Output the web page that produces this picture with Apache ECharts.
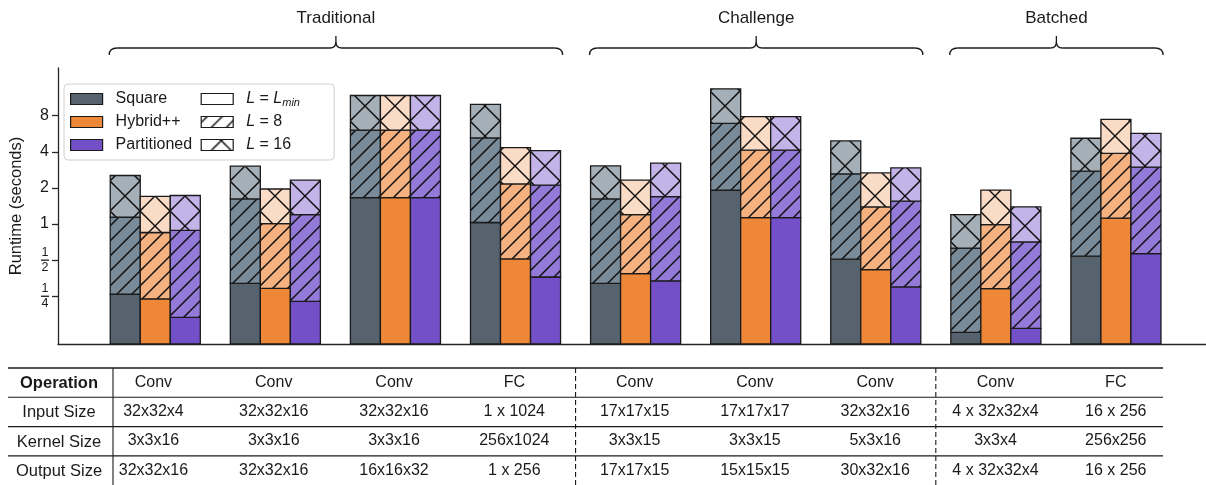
<!DOCTYPE html>
<html><head><meta charset="utf-8">
<script src="https://cdn.jsdelivr.net/npm/echarts@6/dist/echarts.min.js"></script>
<style>html,body{margin:0;padding:0;background:#fff}#c{width:1206px;height:485px}</style>
</head><body><div id="c"></div>
<script>
// ---------------- data ----------------
const categories = ['Trad-1','Trad-2','Trad-3','Trad-4','Chal-1','Chal-2','Chal-3','Batch-1','Batch-2'];
// runtime in seconds (top of each stacked level: L = Lmin, L = 8, L = 16)
const squareLmin = [0.26, 0.32, 1.66, 1.03, 0.32, 1.92, 0.51, 0.125, 0.54];
const squareL8   = [1.14, 1.62, 6.08, 5.22, 1.62, 6.92, 2.62, 0.63, 2.76];
const squareL16  = [2.54, 3.04, 11.8, 9.95, 3.05, 13.4, 4.93, 1.20, 5.19];
const hybridLmin = [0.238, 0.291, 1.66, 0.512, 0.386, 1.13, 0.417, 0.29, 1.12];
const hybridL8   = [0.85, 1.01, 6.08, 2.16, 1.20, 4.13, 1.39, 0.99, 3.89];
const hybridL16  = [1.70, 1.96, 11.8, 4.34, 2.32, 7.85, 2.67, 1.92, 7.47];
const partLmin   = [0.167, 0.227, 1.66, 0.362, 0.336, 1.13, 0.299, 0.135, 0.566];
const partL8     = [0.885, 1.20, 6.08, 2.11, 1.69, 4.13, 1.55, 0.71, 2.98];
const partL16    = [1.73, 2.32, 11.8, 4.09, 3.22, 7.85, 2.94, 1.39, 5.71];
const yTicks = [0.25, 0.5, 1, 2, 4, 8];
const groupLabels = ['Traditional', 'Challenge', 'Batched'];
const groupFirst = [0, 4, 7];
const groupLast  = [3, 6, 8];
const rowHeaders = ['Operation', 'Input Size', 'Kernel Size', 'Output Size'];
const operation  = ['Conv','Conv','Conv','FC','Conv','Conv','Conv','Conv','FC'];
const inputSize  = ['32x32x4','32x32x16','32x32x16','1 x 1024','17x17x15','17x17x17','32x32x16','4 x 32x32x4','16 x 256'];
const kernelSize = ['3x3x16','3x3x16','3x3x16','256x1024','3x3x15','3x3x15','5x3x16','3x3x4','256x256'];
const outputSize = ['32x32x16','32x32x16','16x16x32','1 x 256','17x17x15','15x15x15','30x32x16','4 x 32x32x4','16 x 256'];

// ---------------- styles ----------------
const FONT = "'Liberation Sans', Arial, Helvetica, sans-serif";
const INK = '#1a1a1a';
const YMIN = 0.1, YMAX = 20;
const XMIN = -0.81, XMAX = 8.75;
const GRID = {left: 56, right: 0, top: 68, bottom: 141};
const BAR_FRAC = 0.25;

function hatch(bg, kind) {
  const T = kind === 'x' ? 30 : 15;
  const c = document.createElement('canvas');
  c.width = T; c.height = T;
  const g = c.getContext('2d');
  g.fillStyle = bg; g.fillRect(0, 0, T, T);
  if (kind) {
    g.strokeStyle = '#111'; g.lineWidth = 1.5;
    const s0 = kind === 'x' ? 21 : 6;        // x + y = const lines ("/")
    for (let k = -1; k <= 2; k++) {
      const s = s0 + k * T;
      g.beginPath(); g.moveTo(-T, s + T); g.lineTo(2 * T, s - 2 * T); g.stroke();
    }
    if (kind === 'x') {                       // x - y = const lines ("\")
      const d0 = 19;
      for (let k = -2; k <= 1; k++) {
        const d = d0 + k * T;
        g.beginPath(); g.moveTo(-T, -T - d); g.lineTo(2 * T, 2 * T - d); g.stroke();
      }
    }
  }
  return {image: c, repeat: 'repeat'};
}

const methods = [
  {name: 'Square',      levels: [squareLmin, squareL8, squareL16], colors: ['#56636f', '#798a98', '#a5afb8']},
  {name: 'Hybrid++',    levels: [hybridLmin, hybridL8, hybridL16], colors: ['#ef8739', '#f5b17f', '#fadbc6']},
  {name: 'Partitioned', levels: [partLmin, partL8, partL16],       colors: ['#7450c8', '#9379d8', '#c3b3e8']}
];
const fills = methods.map(m => [m.colors[0], hatch(m.colors[1], '/'), hatch(m.colors[2], 'x')]);
const levelFills = [hatch('#ffffff', null), hatch('#ffffff', '/'), hatch('#ffffff', 'x')];
const levelNames = ['Lmin', 'L8', 'L16'];
const legendText = {
  'Square': 'Square', 'Hybrid++': 'Hybrid++', 'Partitioned': 'Partitioned',
  'Lmin': '{i|L} = {i|L}{s|min}', 'L8': '{i|L} = 8', 'L16': '{i|L} = 16'
};

function makeRender(mi) {
  return function (params, api) {
    const k = api.value(0), lo = api.value(1), hi = api.value(2), lv = api.value(3);
    const unit = api.size([1, 0], [k, 1])[0];
    const w = unit * BAR_FRAC;
    const p0 = api.coord([k, lo]), p1 = api.coord([k, hi]);
    const xc = p0[0] + (mi - 1) * w;
    return {
      type: 'rect',
      shape: {x: xc - w / 2, y: p1[1], width: w, height: p0[1] - p1[1]},
      style: {fill: fills[mi][lv], stroke: INK, lineWidth: 1.3}
    };
  };
}

const series = methods.map((m, mi) => {
  const data = [];
  categories.forEach((c, k) => {
    let lo = YMIN;
    for (let lv = 0; lv < 3; lv++) {
      const hi = m.levels[lv][k];
      data.push([k, lo, hi, lv]);
      lo = hi;
    }
  });
  return {
    name: m.name, type: 'custom', xAxisIndex: 0, yAxisIndex: 0,
    renderItem: makeRender(mi), encode: {x: 0, y: [1, 2]},
    itemStyle: {color: m.colors[0], borderColor: INK, borderWidth: 1.2},
    data: data
  };
});
levelNames.forEach((n, i) => {
  series.push({
    name: n, type: 'custom', xAxisIndex: 0, yAxisIndex: 0,
    renderItem: () => null, itemStyle: {color: levelFills[i], borderColor: INK, borderWidth: 1.2}, data: []
  });
});

// category axis for the table, aligned with bar groups
const unitPx = (1206 - GRID.left - GRID.right) / (XMAX - XMIN);
const tableLeft = GRID.left + (0 - XMIN) * unitPx - unitPx / 2;
const tableRight = 1206 - (GRID.left + (categories.length - 1 - XMIN) * unitPx + unitPx / 2);
const ROW_H = 29.3, TABLE_AXIS_Y = 360, TABLE_MARGIN = 9;

const chart = echarts.init(document.getElementById('c'), null, {renderer: 'canvas'});
chart.setOption({
  animation: false,
  backgroundColor: '#ffffff',
  textStyle: {fontFamily: FONT, color: INK},
  grid: [
    {left: GRID.left, right: GRID.right, top: GRID.top, bottom: GRID.bottom, containLabel: false},
    {left: tableLeft, right: tableRight, top: TABLE_AXIS_Y - 8, height: 8, containLabel: false}
  ],
  xAxis: [
    {type: 'value', gridIndex: 0, min: XMIN, max: XMAX,
     axisLine: {show: true, onZero: false, lineStyle: {color: '#262626', width: 1.3}},
     axisTick: {show: false}, axisLabel: {show: false}, splitLine: {show: false}},
    {type: 'category', gridIndex: 1, data: categories, boundaryGap: true,
     axisLine: {show: false}, axisTick: {show: false}, splitLine: {show: false},
     axisLabel: {interval: 0, margin: TABLE_MARGIN, fontSize: 16, lineHeight: ROW_H, color: INK, fontFamily: FONT,
       formatter: (v, i) => [operation[i], inputSize[i], kernelSize[i], outputSize[i]].join('\n')}}
  ],
  yAxis: [
    {type: 'log', logBase: 2, gridIndex: 0, min: YMIN, max: YMAX,
     axisLine: {show: true, onZero: false, lineStyle: {color: '#262626', width: 1.3}},
     axisTick: {show: true, length: 6, customValues: yTicks, lineStyle: {color: '#262626', width: 1.3}},
     axisLabel: {customValues: yTicks, margin: 9, fontSize: 16, color: INK, fontFamily: FONT,
       formatter: v => v >= 1 ? String(Math.round(v)) : '{n|1}\n{b|}\n{n|' + Math.round(1 / v) + '}',
       rich: {n: {fontSize: 12.5, lineHeight: 12.5, align: 'center', fontFamily: FONT, color: INK},
              b: {width: 8, height: 1.3, lineHeight: 3, backgroundColor: INK, align: 'center'}}},
     splitLine: {show: false},
     name: 'Runtime (seconds)', nameLocation: 'middle', nameGap: 33, nameRotate: 90,
     nameTextStyle: {fontSize: 16.5, color: INK, fontFamily: FONT}},
    {type: 'value', gridIndex: 1, show: false}
  ],
  legend: {
    orient: 'vertical', left: 64, top: 84, height: 66, itemGap: 5,
    itemWidth: 32, itemHeight: 11, icon: 'rect',
    padding: [6, 8, 6, 6], backgroundColor: '#ffffff', borderColor: '#cfcfcf', borderWidth: 1, borderRadius: 4,
    itemStyle: {borderColor: INK, borderWidth: 1.2},
    selectedMode: false,
    textStyle: {fontSize: 16, color: INK, fontFamily: FONT, lineHeight: 18, width: 80, padding: [0, 0, 0, 8],
      rich: {i: {fontSize: 16, fontStyle: 'italic', fontFamily: FONT, color: INK},
             s: {fontSize: 11, fontStyle: 'italic', fontFamily: FONT, color: INK, verticalAlign: 'bottom', lineHeight: 18}}},
    formatter: name => legendText[name],
    data: [
      {name: 'Square'}, {name: 'Hybrid++'}, {name: 'Partitioned'},
      {name: 'Lmin', itemStyle: {color: levelFills[0]}},
      {name: 'L8', itemStyle: {color: levelFills[1]}},
      {name: 'L16', itemStyle: {color: levelFills[2]}}
    ]
  },
  series: series
});

// ---------------- annotations: braces, group labels, table rules ----------------
const px = k => chart.convertToPixel({gridIndex: 0}, [k, 1])[0];
const barW = unitPx * BAR_FRAC;
const graphics = [];
const braceStyle = {fill: null, stroke: INK, lineWidth: 1.3};
function seg(x1, y1, x2, y2) {
  graphics.push({type: 'line', silent: true, shape: {x1, y1, x2, y2}, style: braceStyle});
}
function curve(x1, y1, cpx1, cpy1, x2, y2) {
  graphics.push({type: 'bezierCurve', silent: true, shape: {x1, y1, x2, y2, cpx1, cpy1}, style: braceStyle});
}
groupLabels.forEach((lab, g) => {
  const x0 = px(groupFirst[g]) - 1.5 * barW - 1;
  const x1 = px(groupLast[g]) + 1.5 * barW + 2;
  const xm = (x0 + x1) / 2;
  const yb = 48, ye = 55, yt = 36;
  curve(x0, ye, x0, yb, x0 + 8, yb);
  seg(x0 + 8, yb, xm - 6, yb);
  curve(xm - 6, yb, xm, yb, xm, yb - 6);
  seg(xm, yb - 6, xm, yt);
  curve(xm + 6, yb, xm, yb, xm, yb - 6);
  seg(xm + 6, yb, x1 - 8, yb);
  curve(x1, ye, x1, yb, x1 - 8, yb);
  graphics.push({type: 'text', x: xm, y: 18, silent: true,
    style: {text: lab, font: `17px ${FONT}`, fill: INK, textAlign: 'center', textVerticalAlign: 'middle'}});
});
const tableTop = TABLE_AXIS_Y + TABLE_MARGIN;
rowHeaders.forEach((h, i) => {
  graphics.push({type: 'text', x: 59, y: tableTop + ROW_H * (i + 0.5), silent: true,
    style: {text: h, font: `${i === 0 ? 'bold ' : ''}16.5px ${FONT}`, fill: INK, textAlign: 'center', textVerticalAlign: 'middle'}});
});
const tableX0 = 8, tableX1 = 1163;
for (let i = 0; i < 4; i++) {
  const y = tableTop + ROW_H * i - 1;
  graphics.push({type: 'line', silent: true, shape: {x1: tableX0, y1: y, x2: tableX1, y2: y},
    style: {stroke: INK, lineWidth: i === 0 ? 1.6 : 1.1}});
}
graphics.push({type: 'line', silent: true, shape: {x1: 113, y1: tableTop - 1, x2: 113, y2: 485}, style: {stroke: INK, lineWidth: 1.1}});
[[3, 4], [6, 7]].forEach(([a, b]) => {
  const x = (px(a) + px(b)) / 2;
  graphics.push({type: 'line', silent: true, shape: {x1: x, y1: tableTop - 1, x2: x, y2: 485},
    style: {stroke: INK, lineWidth: 1.1, lineDash: [5, 3]}});
});
chart.setOption({graphic: graphics});
</script>
</body></html>
